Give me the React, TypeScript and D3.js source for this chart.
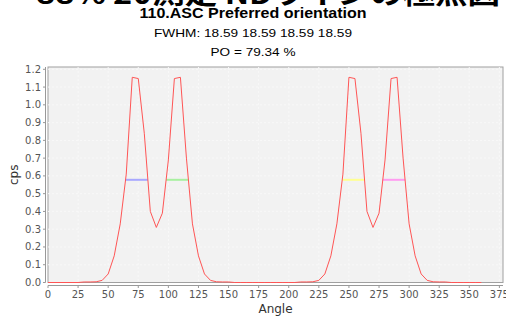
import * as d3 from 'd3'

// 測定角度 (5° 間隔) と強度
const angles = d3.range(0, 365, 5)
const cps = [
  0, 0, 0, 0, 0, 0,
  0.003, 0.003, 0.004, 0.012, 0.048, 0.15, 0.33, 0.61, 1.155, 1.148, 0.84, 0.4, 0.31, 0.39, 0.69, 1.148, 1.155, 0.7, 0.33, 0.15, 0.048, 0.012, 0.004, 0.003, 0.003,
  0, 0, 0, 0, 0, 0, 0, 0, 0, 0, 0,
  0.003, 0.003, 0.004, 0.012, 0.048, 0.15, 0.33, 0.61, 1.155, 1.148, 0.84, 0.4, 0.31, 0.39, 0.69, 1.148, 1.155, 0.7, 0.33, 0.15, 0.048, 0.012, 0.004, 0.003, 0.003,
  0, 0, 0, 0, 0, 0,
]

// 半値幅の線
const fwhmStart = [64.4, 98.1, 244.4, 278.1]
const fwhmEnd = [83.0, 116.7, 263.0, 296.7]
const fwhmLevel = 0.578
const fwhmColors = ['#a8a8ff', '#a8f0a0', '#ffff90', '#ff9cf0']

const xTicks = d3.range(0, 376, 25)
const yTicks = d3.range(0, 1.21, 0.1)

const App = () => {
  const W = 506
  const H = 320
  const left = 48
  const right = 503
  const top = 67
  const bottom = 282.5

  const x = d3.scaleLinear().domain([0, 378]).range([left, right])
  const y = d3.scaleLinear().domain([0, 1.213]).range([bottom, top])

  const pts = angles.map((a, i) => [a, cps[i]] as [number, number])
  const line = d3.line<[number, number]>()
    .x(d => x(d[0]))
    .y(d => y(d[1]))

  const sans = 'Liberation Sans, Arial, sans-serif'
  const tickFont = 'DejaVu Sans, sans-serif'

  return (
    <svg width={W} height={H} style={{ position: 'fixed', left: 0, top: 0, background: '#fff' }}>
      {/* 見出し (上が切れている) */}
      <text x={36} y={3.5} fontFamily="Noto Sans CJK JP, sans-serif" fontWeight="bold" fontSize={28}
        textLength={464} lengthAdjust="spacingAndGlyphs">88% 2θ測定 NDラインの極点図</text>
      <text x={W / 2} y={17.5} textAnchor="middle" fontFamily={sans} fontWeight="bold" fontSize={14}
        textLength={227} lengthAdjust="spacingAndGlyphs">110.ASC  Preferred orientation</text>
      <text x={W / 2} y={37} textAnchor="middle" fontFamily={sans} fontSize={11.5}
        textLength={198} lengthAdjust="spacingAndGlyphs">FWHM: 18.59 18.59 18.59 18.59</text>
      <text x={W / 2} y={56} textAnchor="middle" fontFamily={sans} fontSize={11.5}
        textLength={85} lengthAdjust="spacingAndGlyphs">PO = 79.34 %</text>

      {/* プロット領域 */}
      <rect x={left} y={top} width={right - left} height={bottom - top} fill="#f2f2f2" stroke="#a0a0a0" strokeWidth={1} />
      {xTicks.filter(t => t > 0 && t < 378).map(t => (
        <line key={'gx' + t} x1={x(t)} x2={x(t)} y1={top} y2={bottom} stroke="#f8f8f8" strokeDasharray="2,2" />
      ))}
      {yTicks.filter(t => t > 0.05).map(t => (
        <line key={'gy' + t} x1={left} x2={right} y1={y(t)} y2={y(t)} stroke="#f8f8f8" strokeDasharray="2,2" />
      ))}

      {/* 半値幅 */}
      {fwhmStart.map((s, i) => (
        <line key={'f' + i} x1={x(s)} x2={x(fwhmEnd[i])} y1={y(fwhmLevel)} y2={y(fwhmLevel)}
          stroke={fwhmColors[i]} strokeWidth={2} />
      ))}

      <path d={line(pts) || ''} fill="none" stroke="#ff5555" strokeWidth={1} />

      {/* Y 軸 */}
      <line x1={45.5} x2={45.5} y1={top} y2={bottom} stroke="#999" />
      {yTicks.map(t => (
        <g key={'y' + t}>
          <line x1={43} x2={45.5} y1={y(t)} y2={y(t)} stroke="#999" />
          <text x={41} y={y(t)} dy="0.35em" textAnchor="end" fontFamily={tickFont} fontSize={10} fill="#555">
            {t.toFixed(1)}
          </text>
        </g>
      ))}
      <text transform={`translate(18,${(top + bottom) / 2}) rotate(-90)`} textAnchor="middle"
        fontFamily={tickFont} fontSize={12} fill="#333">cps</text>

      {/* X 軸 */}
      <line x1={left} x2={right} y1={285.5} y2={285.5} stroke="#999" />
      {xTicks.map(t => (
        <g key={'x' + t}>
          <line x1={x(t)} x2={x(t)} y1={285.5} y2={288} stroke="#999" />
          <text x={x(t)} y={298} textAnchor="middle" fontFamily={tickFont} fontSize={10} fill="#555">{t}</text>
        </g>
      ))}
      <text x={(left + right) / 2} y={313} textAnchor="middle" fontFamily={tickFont} fontSize={12} fill="#333">Angle</text>
    </svg>
  )
}

export default App
